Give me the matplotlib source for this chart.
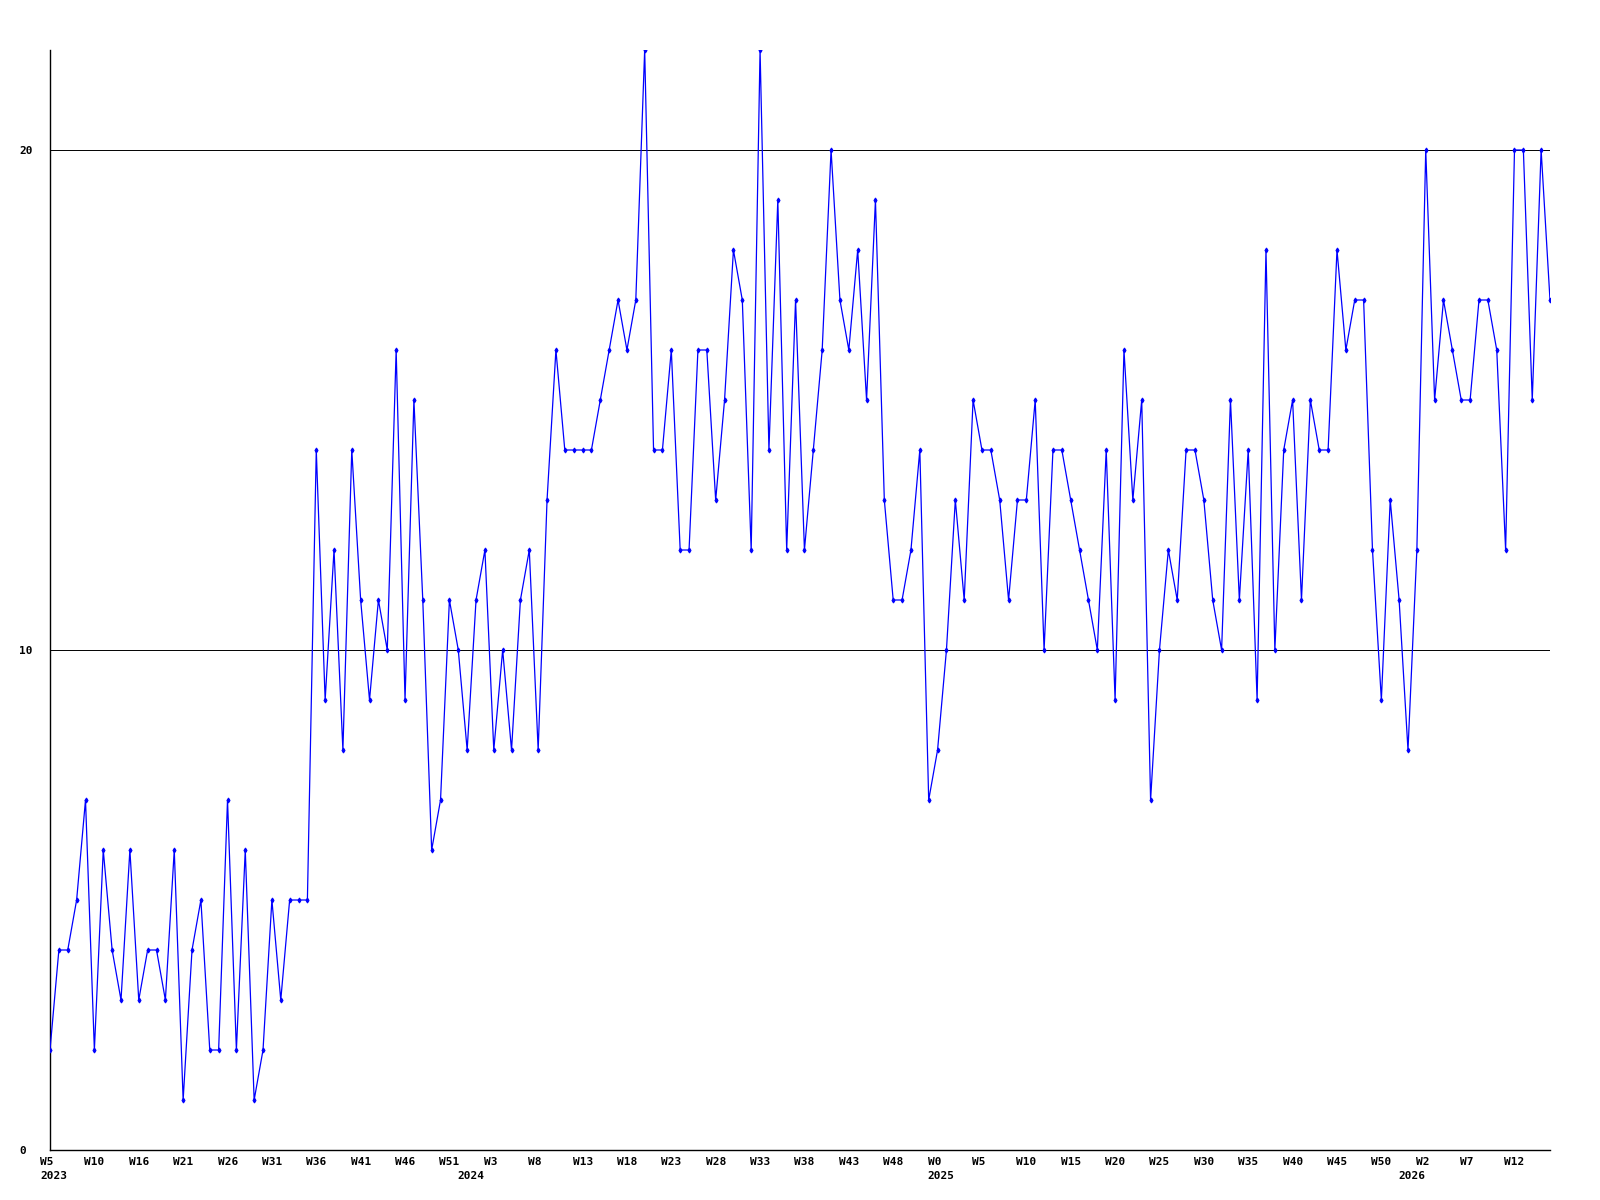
import matplotlib
matplotlib.use("Agg")
import matplotlib.pyplot as plt
import matplotlib.transforms as mtransforms

# weekly counts, W5 2023 .. W16 2026
values = [
    2, 4, 4, 5, 7, 2, 6, 4, 3, 6,
    3, 4, 4, 3, 6, 1, 4, 5, 2, 2,
    7, 2, 6, 1, 2, 5, 3, 5, 5, 5,
    14, 9, 12, 8, 14, 11, 9, 11, 10, 16,
    9, 15, 11, 6, 7, 11, 10, 8, 11, 12,
    8, 10, 8, 11, 12, 8, 13, 16, 14, 14,
    14, 14, 15, 16, 17, 16, 17, 22, 14, 14,
    16, 12, 12, 16, 16, 13, 15, 18, 17, 12,
    22, 14, 19, 12, 17, 12, 14, 16, 20, 17,
    16, 18, 15, 19, 13, 11, 11, 12, 14, 7,
    8, 10, 13, 11, 15, 14, 14, 13, 11, 13,
    13, 15, 10, 14, 14, 13, 12, 11, 10, 14,
    9, 16, 13, 15, 7, 10, 12, 11, 14, 14,
    13, 11, 10, 15, 11, 14, 9, 18, 10, 14,
    15, 11, 15, 14, 14, 18, 16, 17, 17, 12,
    9, 13, 11, 8, 12, 20, 15, 17, 16, 15,
    15, 17, 17, 16, 12, 20, 20, 15, 20, 17,
]

week_labels = [
    "W5", "W10", "W16", "W21", "W26", "W31", "W36", "W41", "W46", "W51",
    "W3", "W8", "W13", "W18", "W23", "W28", "W33", "W38", "W43", "W48",
    "W0", "W5", "W10", "W15", "W20", "W25", "W30", "W35", "W40", "W45",
    "W50", "W2", "W7", "W12",
]
year_labels = ["2023", "2024", "2025", "2026"]
year_starts = [0, 47, 100, 153]  # index of first week shown for each year
y_ticks = [0, 10, 20]

font = dict(family="DejaVu Sans Mono", fontsize=8, fontweight="bold")

fig = plt.figure(figsize=(16, 12), dpi=100)
ax = fig.add_axes([50 / 1600, 50 / 1200, 1500 / 1600, 1100 / 1200])

x = list(range(len(values)))
ax.plot(x, values, color="#0000ff", lw=0.9, marker="d", markersize=2.5,
        markeredgewidth=0.8, zorder=3)

ax.set_xlim(0, len(values) - 1)
ax.set_ylim(0, 22)

for side in ("top", "right"):
    ax.spines[side].set_visible(False)
for side in ("left", "bottom"):
    ax.spines[side].set_linewidth(1.0)

ax.set_yticks(y_ticks)
ax.set_yticklabels([str(t) for t in y_ticks], ha="left", **font)
ax.tick_params(axis="y", length=0, pad=22)
ax.grid(axis="y", color="black", lw=0.7)
ax.set_axisbelow(True)

tick_pos = list(range(0, 5 * len(week_labels), 5))
ax.set_xticks(tick_pos)
ax.set_xticklabels(week_labels, ha="left", **font)
ax.tick_params(axis="x", length=0, pad=5)
shift = mtransforms.ScaledTranslation(-10 / 100, 0, fig.dpi_scale_trans)
for lab in ax.get_xticklabels():
    lab.set_transform(lab.get_transform() + shift)

trans = mtransforms.offset_copy(ax.get_xaxis_transform(), fig=fig,
                                x=-10, y=-26, units="dots")
for pos, yr in zip(year_starts, year_labels):
    ax.text(pos, 0, yr, transform=trans, ha="left", va="center", **font)

fig.savefig("out.png", dpi=100)
